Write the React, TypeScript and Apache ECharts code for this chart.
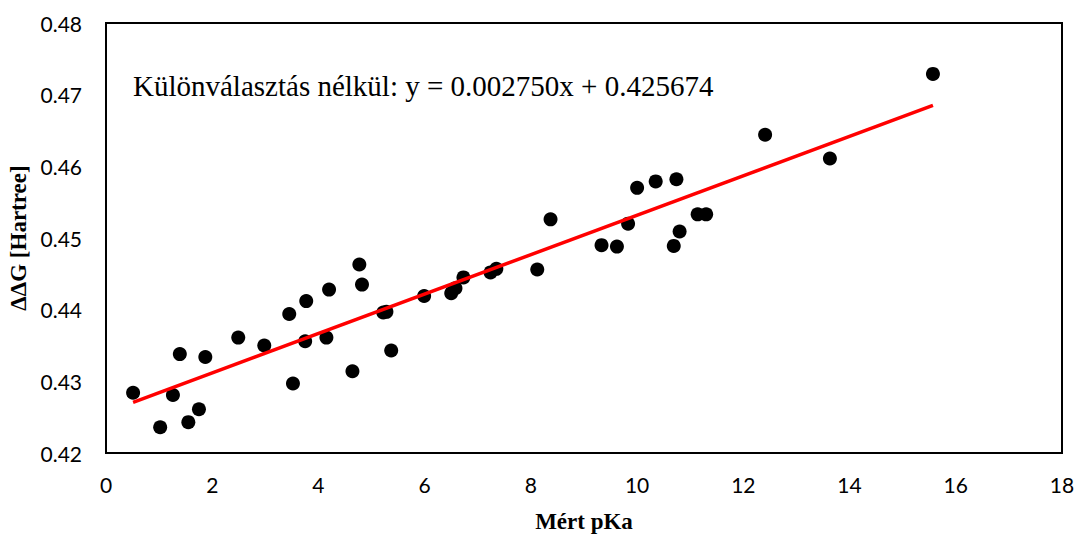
import React, { useEffect, useRef } from "react";
import * as echarts from "echarts";

const pKa = [
  0.51, 1.02, 1.26, 1.39, 1.55, 1.75, 1.87, 2.49, 2.98, 3.45,
  3.52, 3.75, 3.77, 4.15, 4.2, 4.64, 4.77, 4.82, 5.22, 5.28,
  5.37, 5.99, 6.5, 6.58, 6.73, 7.24, 7.35, 8.12, 8.37, 9.33,
  9.62, 9.83, 10.0, 10.35, 10.69, 10.74, 10.8, 11.14, 11.3, 12.41,
  13.63, 15.57,
];
const ddG = [
  0.4284, 0.4236, 0.4281, 0.4338, 0.4243, 0.4261, 0.4334, 0.4361, 0.4350, 0.4394,
  0.4297, 0.4356, 0.4412, 0.4361, 0.4428, 0.4314, 0.4463, 0.4435, 0.4396, 0.4397,
  0.4343, 0.4419, 0.4423, 0.4430, 0.4445, 0.4452, 0.4457, 0.4456, 0.4526, 0.4490,
  0.4488, 0.4520, 0.4570, 0.4579, 0.4489, 0.4582, 0.4509, 0.4533, 0.4533, 0.4644,
  0.4611, 0.4729,
];
const slope = 0.00275;
const intercept = 0.425674;
const equationText = "Különválasztás nélkül: y = 0.002750x + 0.425674";
const xTitle = "Mért pKa";
const yTitle = "ΔΔG [Hartree]";

export default function App() {
  const ref = useRef<HTMLDivElement>(null);
  useEffect(() => {
    if (!ref.current) return;
    const chart = echarts.init(ref.current, null, { renderer: "svg" });
    const points = pKa.map((x, i) => [x, ddG[i]]);
    const xMin = Math.min(...pKa);
    const xMax = Math.max(...pKa);
    const trend = [
      [xMin, slope * xMin + intercept],
      [xMax, slope * xMax + intercept],
    ];
    chart.setOption({
      animation: false,
      backgroundColor: "#fff",
      grid: {
        left: 106,
        right: 14,
        top: 23,
        bottom: 81,
        containLabel: false,
        outerBoundsMode: "none",
        show: true,
        borderColor: "#000",
        borderWidth: 2,
        backgroundColor: "transparent",
      },
      xAxis: {
        type: "value",
        min: 0,
        max: 18,
        interval: 2,
        name: xTitle,
        nameLocation: "middle",
        nameGap: 57,
        nameTextStyle: {
          fontFamily: "Liberation Serif",
          fontWeight: "bold",
          fontSize: 23,
          color: "#000",
        },
        axisLine: { show: true, lineStyle: { color: "#000", width: 2 } },
        axisTick: { show: false },
        splitLine: { show: false },
        axisLabel: {
          margin: 21,
          fontFamily: "Lato",
          fontSize: 21,
          color: "#000",
        },
      },
      yAxis: {
        type: "value",
        min: 0.42,
        max: 0.48,
        interval: 0.01,
        name: yTitle,
        nameLocation: "middle",
        nameGap: 61,
        nameRotate: 90,
        nameTextStyle: {
          fontFamily: "Liberation Serif",
          fontWeight: "bold",
          fontSize: 23,
          color: "#000",
        },
        axisLine: { show: true, lineStyle: { color: "#000", width: 2 } },
        axisTick: { show: false },
        splitLine: { show: false },
        axisLabel: {
          margin: 24,
          fontFamily: "Lato",
          fontSize: 21,
          color: "#000",
          formatter: (v: number) => v.toFixed(2),
        },
      },
      graphic: [
        {
          type: "text",
          left: 133,
          top: 71,
          style: {
            text: equationText,
            font: "29px 'Liberation Serif'",
            fill: "#000",
          },
        },
      ],
      series: [
        {
          type: "line",
          data: trend,
          symbol: "none",
          lineStyle: { color: "#ff0000", width: 3.5 },
          z: 3,
        },
        {
          type: "scatter",
          data: points,
          symbol: "circle",
          symbolSize: 14,
          itemStyle: { color: "#000", opacity: 1 },
          z: 2,
        },
      ],
    });
    return () => chart.dispose();
  }, []);
  return (
    <div
      ref={ref}
      style={{ position: "fixed", left: 0, top: 0, width: 1076, height: 534 }}
    />
  );
}
